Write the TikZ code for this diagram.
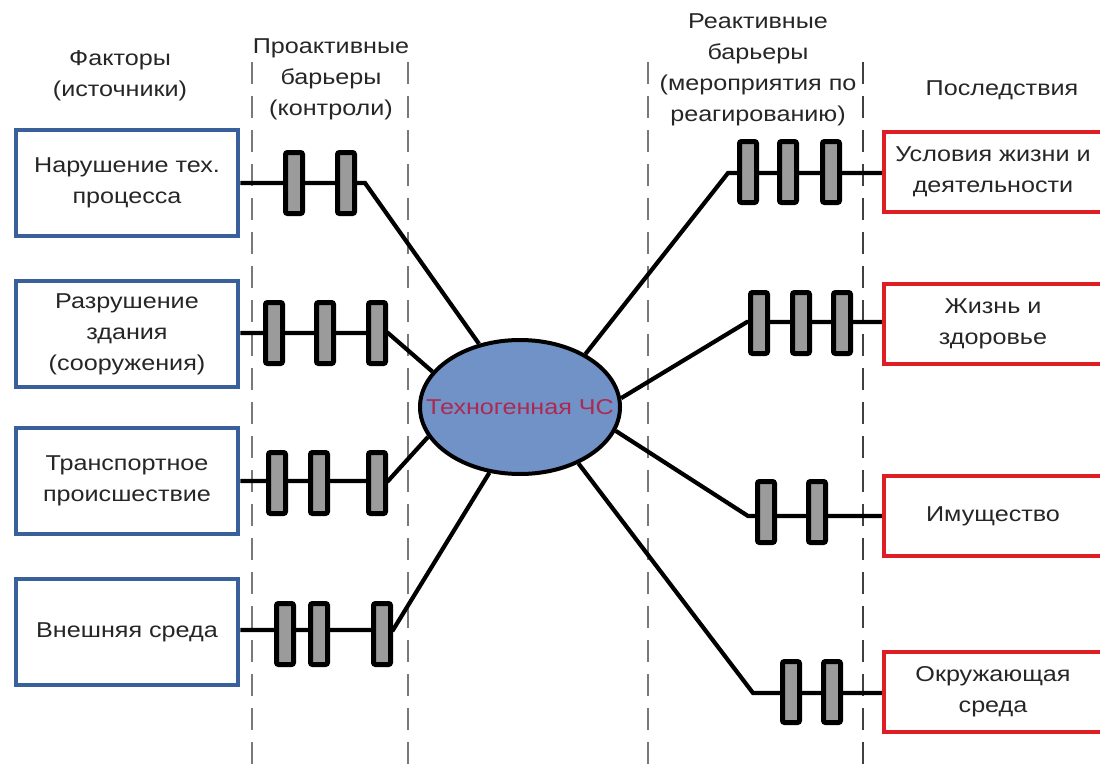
\documentclass[tikz,border=0pt]{standalone}
\usepackage{fontspec}
\setmainfont{Liberation Sans}[FakeStretch=1.17]
\usetikzlibrary{shapes.geometric,backgrounds}

\definecolor{srcblue}{RGB}{58,96,156}
\definecolor{resred}{RGB}{222,30,35}
\definecolor{hubfill}{RGB}{113,146,198}
\definecolor{hubtext}{RGB}{172,42,82}
\definecolor{barfill}{RGB}{155,155,155}
\definecolor{txt}{RGB}{38,38,38}

\begin{document}
\begin{tikzpicture}[x=1pt,y=-1pt,
  every node/.style={font=\fontsize{21.5}{31}\selectfont, text=txt, align=center, inner sep=0pt},
  srcbox/.style={draw=srcblue, line width=4.5pt, fill=white, minimum width=222pt, minimum height=106pt},
  resbox/.style={draw=resred, line width=4.5pt, fill=white, minimum width=218pt, minimum height=80pt},
  barrier/.style={draw=black, fill=barfill, line width=5pt, rounded corners=2pt, minimum width=17pt, minimum height=61pt},
  hub/.style={ellipse, draw=black, fill=hubfill, line width=4pt, minimum width=200pt, minimum height=134pt, text=hubtext},
  conn/.style={line width=4.2pt, black},
  divider/.style={line width=2.5pt, dash pattern=on 22pt off 12pt},
]
\useasboundingbox (0,0) rectangle (1100,776);

% column headings
\node (hsrc) at (120,76) {Факторы\\(источники)};
\node (hpro) at (331,79) {Проактивные\\барьеры\\(контроли)};
\node (hrea) at (758,70) {Реактивные\\барьеры\\(мероприятия по\\реагированию)};
\node (hres) at (1002,90) {Последствия};

% central event
\node[hub] (ev) at (520,407) {\makebox[0pt]{Техногенная ЧС}};

% sources
\node[srcbox] (s1) at (127,183) {Нарушение тех.\\процесса};
\node[srcbox] (s2) at (127,334) {Разрушение\\здания\\(сооружения)};
\node[srcbox] (s3) at (127,481) {Транспортное\\происшествие};
\node[srcbox] (s4) at (127,632) {Внешняя среда};

% consequences
\node[resbox] (r1) at (993,172) {Условия жизни и\\деятельности};
\node[resbox] (r2) at (993,324) {Жизнь и\\здоровье};
\node[resbox] (r3) at (993,516) {Имущество};
\node[resbox] (r4) at (993,692) {Окружающая\\среда};

% proactive barriers
\node[barrier] (p11) at (294,183) {};
\node[barrier] (p12) at (346,183) {};
\node[barrier] (p21) at (274,333) {};
\node[barrier] (p22) at (325,333) {};
\node[barrier] (p23) at (377,333) {};
\node[barrier] (p31) at (277,483) {};
\node[barrier] (p32) at (319,483) {};
\node[barrier] (p33) at (377,483) {};
\node[barrier] (p41) at (285,634) {};
\node[barrier] (p42) at (319,634) {};
\node[barrier] (p43) at (382,634) {};

% reactive barriers
\node[barrier] (q11) at (748,172) {};
\node[barrier] (q12) at (788,172) {};
\node[barrier] (q13) at (831,172) {};
\node[barrier] (q21) at (759,323) {};
\node[barrier] (q22) at (801,323) {};
\node[barrier] (q23) at (842,323) {};
\node[barrier] (q31) at (766,512) {};
\node[barrier] (q32) at (817,512) {};
\node[barrier] (q41) at (791,692) {};
\node[barrier] (q42) at (832,692) {};

% bends of the connectors
\coordinate (k1) at (365,183);
\coordinate (k2) at (388,333);
\coordinate (k3) at (388,481);
\coordinate (k4) at (393,630);
\coordinate (m1) at (728,173);
\coordinate (m2) at (747,322);
\coordinate (m3) at (748,516);
\coordinate (m4) at (753,693);

\begin{scope}[on background layer]
  % column dividers
  \draw[divider, gray!95!black] (252,62) -- (252,776);
  \draw[divider, gray!95!black] (408,62) -- (408,776);
  \draw[divider, gray!95!black] (648,62) -- (648,776);
  \draw[divider, black!75] (863,62) -- (863,776);

  % source chains
  \draw[conn] (s1.east |- k1) -- (k1) -- (ev.123);
  \draw[conn] (s2.east |- k2) -- (k2) -- (ev.158);
  \draw[conn] (s3.east |- k3) -- (k3) -- (ev.198);
  \draw[conn] (s4.east |- k4) -- (k4) -- (ev.245);

  % consequence chains
  \draw[conn] (r1.west |- m1) -- (m1) -- (ev.39);
  \draw[conn] (r2.west |- m2) -- (m2) -- (ev.5);
  \draw[conn] (r3.west |- m3) -- (m3) -- (ev.346);
  \draw[conn] (r4.west |- m4) -- (m4) -- (ev.316);
\end{scope}
\end{tikzpicture}
\end{document}
